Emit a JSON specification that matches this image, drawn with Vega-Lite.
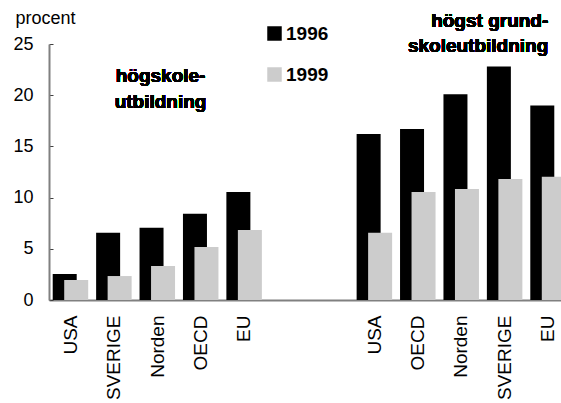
{
  "$schema": "https://vega.github.io/schema/vega-lite/v6.json",
  "width": 512,
  "height": 256,
  "autosize": {"type": "none"},
  "padding": {"left": 49, "top": 44, "right": 0, "bottom": 103},
  "background": "white",
  "config": {
    "view": {"stroke": null},
    "font": "Liberation Sans"
  },
  "data": {
    "values": [
      {"slot": "USA|L", "year": "1996", "value": 2.54},
      {"slot": "SVERIGE|L", "year": "1996", "value": 6.57},
      {"slot": "Norden|L", "year": "1996", "value": 7.06},
      {"slot": "OECD|L", "year": "1996", "value": 8.43},
      {"slot": "EU|L", "year": "1996", "value": 10.55},
      {"slot": "USA|R", "year": "1996", "value": 16.2},
      {"slot": "OECD|R", "year": "1996", "value": 16.7},
      {"slot": "Norden|R", "year": "1996", "value": 20.1},
      {"slot": "SVERIGE|R", "year": "1996", "value": 22.8},
      {"slot": "EU|R", "year": "1996", "value": 19.0},
      {"slot": "USA|L", "year": "1999", "value": 1.95},
      {"slot": "SVERIGE|L", "year": "1999", "value": 2.34},
      {"slot": "Norden|L", "year": "1999", "value": 3.32},
      {"slot": "OECD|L", "year": "1999", "value": 5.18},
      {"slot": "EU|L", "year": "1999", "value": 6.84},
      {"slot": "USA|R", "year": "1999", "value": 6.57},
      {"slot": "OECD|R", "year": "1999", "value": 10.55},
      {"slot": "Norden|R", "year": "1999", "value": 10.84},
      {"slot": "SVERIGE|R", "year": "1999", "value": 11.82},
      {"slot": "EU|R", "year": "1999", "value": 12.04}
    ]
  },
  "encoding": {
    "x": {
      "field": "slot",
      "type": "nominal",
      "sort": null,
      "scale": {
        "domain": ["USA|L", "SVERIGE|L", "Norden|L", "OECD|L", "EU|L", "g1", "g2", "USA|R", "OECD|R", "Norden|R", "SVERIGE|R", "EU|R"],
        "range": [0, 521],
        "paddingInner": 0,
        "paddingOuter": 0
      },
      "axis": {
        "title": null,
        "labelExpr": "indexof(datum.value, '|') > 0 ? split(datum.value, '|')[0] : ''",
        "labelAngle": -90,
        "labelAlign": "right",
        "labelBaseline": "middle",
        "labelPadding": 15,
        "labelFontSize": 19,
        "labelColor": "#000000",
        "ticks": false,
        "domainColor": "#808080",
        "domainWidth": 2,
        "grid": false
      }
    },
    "y": {
      "field": "value",
      "type": "quantitative",
      "scale": {"domain": [0, 25], "nice": false},
      "axis": {
        "values": [0, 5, 10, 15, 20, 25],
        "title": "procent",
        "titleAngle": 0,
        "titleAlign": "left",
        "titleBaseline": "middle",
        "titleX": -34,
        "titleY": -26,
        "titleFontSize": 18,
        "titleFontWeight": "normal",
        "titleColor": "#000000",
        "labelFontSize": 18,
        "labelColor": "#000000",
        "labelPadding": 20,
        "tickSize": -4,
        "tickColor": "#404040",
        "domainColor": "#808080",
        "domainWidth": 2,
        "grid": false
      }
    },
    "color": {
      "field": "year",
      "type": "nominal",
      "scale": {"domain": ["1996", "1999"], "range": ["#000000", "#cccccc"]},
      "legend": {
        "title": null,
        "orient": "none",
        "legendX": 216,
        "legendY": -20,
        "symbolType": "square",
        "symbolSize": 210,
        "symbolStrokeWidth": 0,
        "labelFontSize": 19,
        "labelFontWeight": "bold",
        "labelColor": "#000000",
        "labelOffset": 2,
        "rowPadding": 21,
        "padding": 0
      }
    }
  },
  "layer": [
    {
      "transform": [{"filter": "datum.year == '1996'"}],
      "mark": {"type": "bar", "width": 24, "xOffset": -6}
    },
    {
      "transform": [{"filter": "datum.year == '1999'"}],
      "mark": {"type": "bar", "width": 24, "xOffset": 5.5}
    },
    {
      "mark": {"type": "text", "fontSize": 19, "fontWeight": "bold", "align": "center", "baseline": "alphabetic", "lineHeight": 26, "dx": 3},
      "encoding": {
        "x": {"datum": "Norden|L"},
        "y": {"datum": 21.33},
        "text": {"value": ["högskole-", "utbildning"]},
        "color": {"value": "#000000"}
      }
    },
    {
      "mark": {"type": "text", "fontSize": 19, "fontWeight": "bold", "align": "right", "baseline": "alphabetic", "lineHeight": 25},
      "encoding": {
        "x": {"datum": "EU|R"},
        "y": {"datum": 26.66},
        "text": {"value": ["högst grund-", "skoleutbildning"]},
        "color": {"value": "#000000"}
      }
    }
  ]
}
